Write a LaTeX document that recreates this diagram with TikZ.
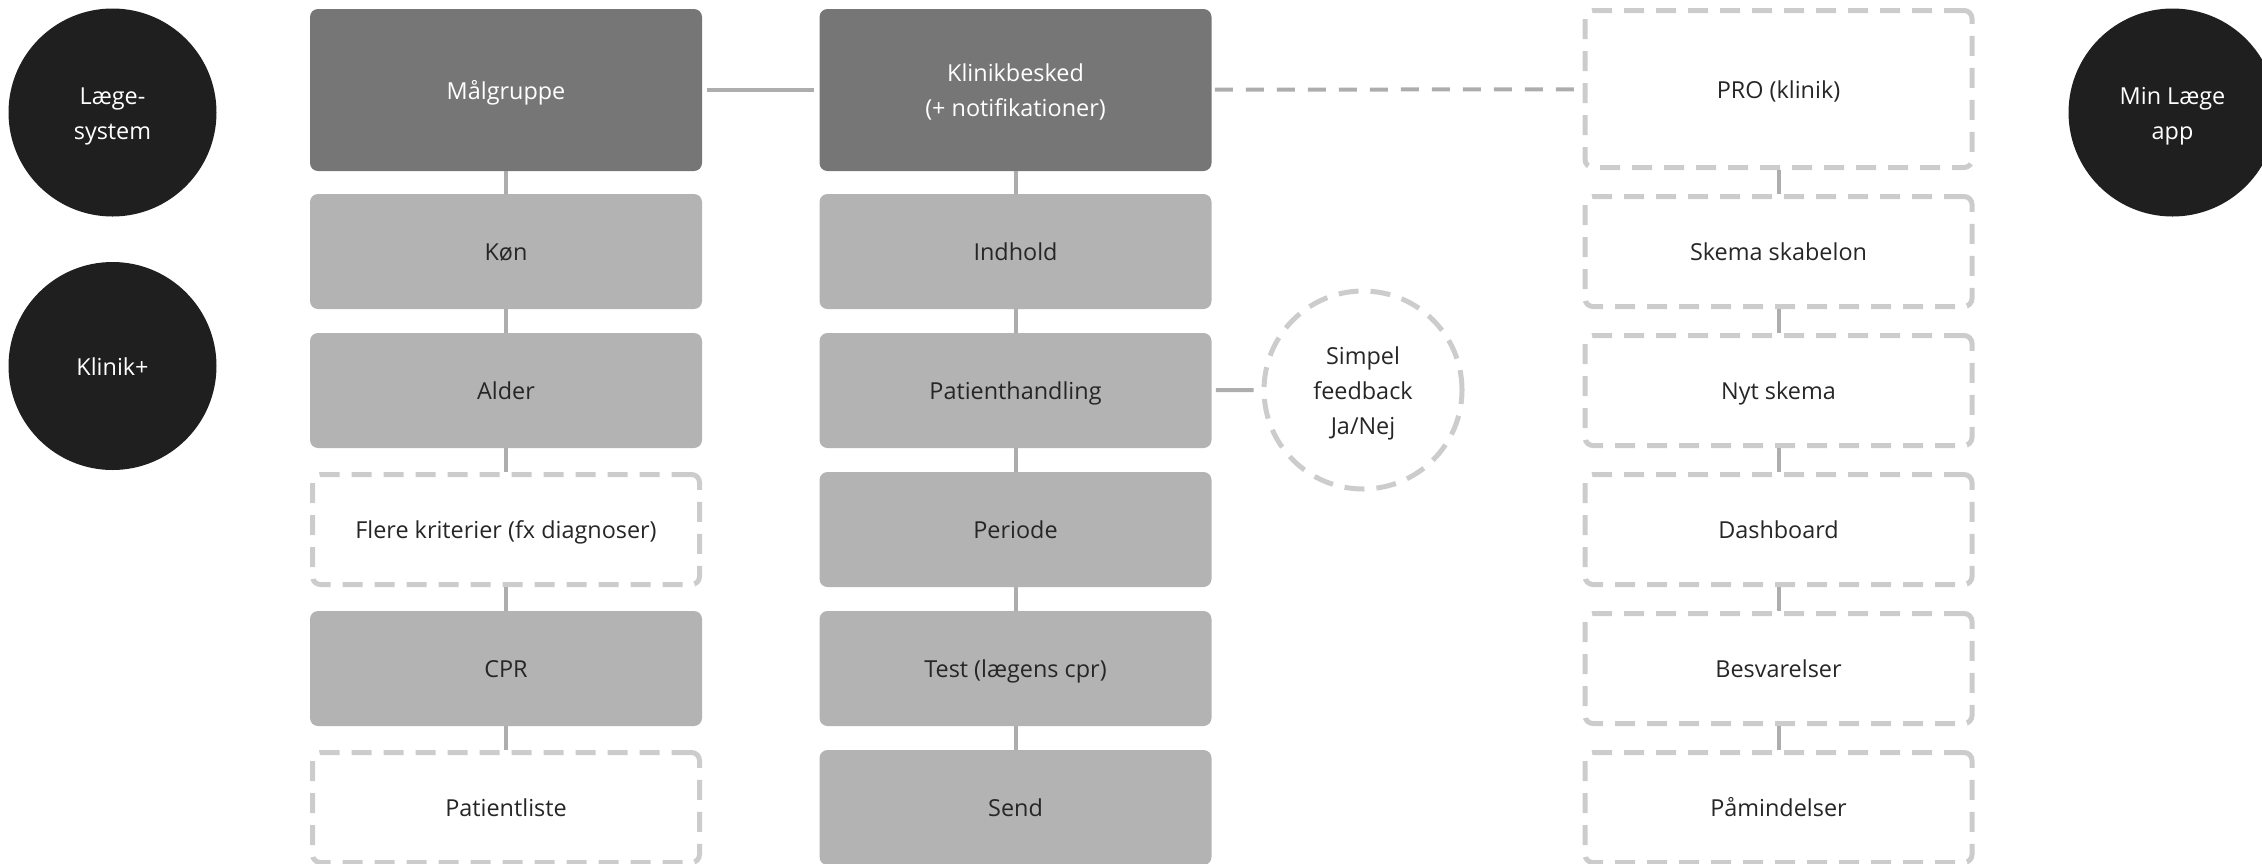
\documentclass[tikz,border=0pt]{standalone}
\usepackage{fontspec}
\setmainfont{Open Sans}
\definecolor{boxdark}{HTML}{767676}
\definecolor{boxlight}{HTML}{B3B3B3}
\definecolor{dashgray}{HTML}{CCCCCC}
\definecolor{conngray}{HTML}{ADADAD}
\definecolor{circblack}{HTML}{1F1F1F}
\definecolor{txt}{HTML}{262626}
\newcommand{\mltext}[1]{\raisebox{-1.2pt}[\height][\depth]{\begin{tabular}{@{}c@{}}#1\end{tabular}}}
\begin{document}
\begin{tikzpicture}[x=0.5pt,y=-0.5pt,
  every node/.style={font=\fontsize{11.7}{17.5}\selectfont, inner sep=0pt},
  darkbox/.style={fill=boxdark, text=white, rounded corners=4pt, minimum width=196pt, minimum height=81pt},
  lightbox/.style={fill=boxlight, text=txt, rounded corners=4pt, minimum width=196pt, minimum height=57.5pt},
  dashbox/.style={draw=dashgray, line width=2.5pt, dash pattern=on 10pt off 6pt, text=txt, rounded corners=4pt, minimum width=193.5pt, minimum height=55pt},
  dashbigbox/.style={dashbox, minimum height=78.5pt},
  blackcirc/.style={circle, fill=circblack, text=white, minimum size=104pt},
  dashcirc/.style={circle, draw=dashgray, line width=2.5pt, dash pattern=on 10pt off 6pt, text=txt, minimum size=99pt},
  conn/.style={draw=conngray, line width=2pt},
  dashconn/.style={conn, dash pattern=on 9pt off 6.5pt}
]
\useasboundingbox (0,0) rectangle (2262,863);

% circles
\node[blackcirc] (laege) at (112.5,112.5) {\mltext{Læge-\\system}};
\node[blackcirc] (klinikplus) at (112.5,366) {\mltext{Klinik+}};
\node[blackcirc] (minlaege) at (2172.5,112.5) {\mltext{Min Læge\\app}};

% column 1
\node[darkbox] (malgruppe) at (506,90) {\mltext{Målgruppe}};
\node[lightbox] (kon) at (506,251.5) {\mltext{Køn}};
\node[lightbox] (alder) at (506,390.5) {\mltext{Alder}};
\node[dashbox] (flere) at (506,529.5) {\mltext{Flere kriterier (fx diagnoser)}};
\node[lightbox] (cpr) at (506,668.5) {\mltext{CPR}};
\node[dashbox] (patientliste) at (506,807.5) {\mltext{Patientliste}};

% column 2
\node[darkbox] (klinikbesked) at (1015.5,90) {\mltext{Klinikbesked\\(+ notifikationer)}};
\node[lightbox] (indhold) at (1015.5,251.5) {\mltext{Indhold}};
\node[lightbox] (patienthandling) at (1015.5,390.5) {\mltext{Patienthandling}};
\node[lightbox] (periode) at (1015.5,529.5) {\mltext{Periode}};
\node[lightbox] (test) at (1015.5,668.5) {\mltext{Test (lægens cpr)}};
\node[lightbox] (send) at (1015.5,807.5) {\mltext{Send}};

\node[dashcirc] (simpel) at (1363,390) {\mltext{Simpel\\feedback\\Ja/Nej}};

% column 3
\node[dashbigbox] (pro) at (1778.5,89) {\mltext{PRO (klinik)}};
\node[dashbox] (skema) at (1778.5,251.5) {\mltext{Skema skabelon}};
\node[dashbox] (nyt) at (1778.5,390.5) {\mltext{Nyt skema}};
\node[dashbox] (dashboard) at (1778.5,529.5) {\mltext{Dashboard}};
\node[dashbox] (besvarelser) at (1778.5,668.5) {\mltext{Besvarelser}};
\node[dashbox] (pamindelser) at (1778.5,807.5) {\mltext{Påmindelser}};

% horizontal connectors
\draw[conn, shorten <=2.5pt, shorten >=2.5pt] (malgruppe) -- (klinikbesked);
\draw[dashconn, shorten <=1.5pt, shorten >=1pt] (klinikbesked) -- (pro);
\draw[conn, shorten <=2pt, shorten >=4pt] (patienthandling) -- (simpel);

% vertical connectors
\foreach \a/\b in {malgruppe/kon, kon/alder, alder/flere, flere/cpr, cpr/patientliste,
                   klinikbesked/indhold, indhold/patienthandling, patienthandling/periode, periode/test, test/send,
                   pro/skema, skema/nyt, nyt/dashboard, dashboard/besvarelser, besvarelser/pamindelser}
  \draw[conn] (\a.south) -- (\b.north);
\end{tikzpicture}
\end{document}
